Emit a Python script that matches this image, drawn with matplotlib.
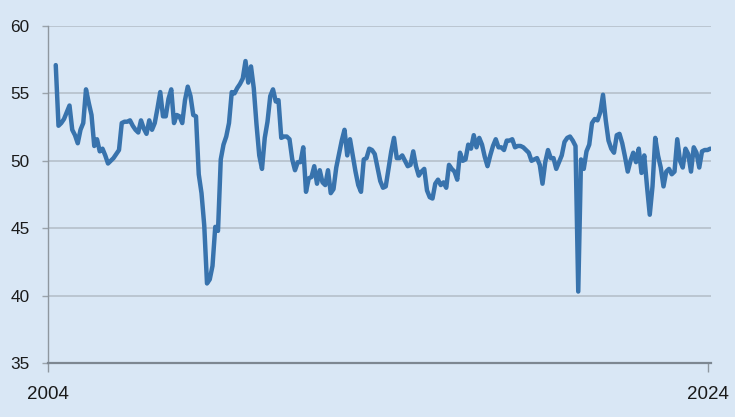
import matplotlib.pyplot as plt
import numpy as np

# monthly index values, Apr 2004 .. Feb 2024
start_year, start_month = 2004, 4
v2004 = [57.1, 52.6, 52.8, 53.1, 53.6, 54.1, 52.3, 51.9, 51.3]
v2005 = [52.3, 52.8, 55.3, 54.3, 53.4, 51.1, 51.6, 50.7, 50.9, 50.4, 49.8, 50.0]
v2006 = [50.2, 50.5, 50.8, 52.8, 52.9, 52.9, 53.0, 52.6, 52.3, 52.1, 53.0, 52.4]
v2007 = [52.0, 53.0, 52.3, 52.8, 53.9, 55.1, 53.3, 53.3, 54.6, 55.3, 52.8, 53.4]
v2008 = [53.3, 52.8, 54.5, 55.5, 54.8, 53.4, 53.3, 49.0, 47.6, 45.2, 40.9, 41.2]
v2009 = [42.2, 45.1, 44.8, 50.1, 51.2, 51.8, 52.8, 55.1, 55.0, 55.4, 55.7, 56.1]
v2010 = [57.4, 55.8, 57.0, 55.4, 52.7, 50.4, 49.4, 51.7, 52.9, 54.8, 55.3, 54.4]
v2011 = [54.5, 51.7, 51.8, 51.8, 51.6, 50.1, 49.3, 49.9, 49.9, 51.0, 47.7, 48.7]
v2012 = [48.8, 49.6, 48.3, 49.3, 48.4, 48.2, 49.3, 47.6, 47.9, 49.5, 50.5, 51.5]
v2013 = [52.3, 50.4, 51.6, 50.4, 49.2, 48.2, 47.7, 50.1, 50.2, 50.9, 50.8, 50.5]
v2014 = [49.5, 48.5, 48.0, 48.1, 49.4, 50.7, 51.7, 50.2, 50.2, 50.4, 50.0, 49.6]
v2015 = [49.7, 50.7, 49.6, 48.9, 49.2, 49.4, 47.8, 47.3, 47.2, 48.3, 48.6, 48.2]
v2016 = [48.4, 48.0, 49.7, 49.4, 49.2, 48.6, 50.6, 50.0, 50.1, 51.2, 50.9, 51.9]
v2017 = [51.0, 51.7, 51.2, 50.3, 49.6, 50.4, 51.1, 51.6, 51.0, 51.0, 50.8, 51.5]
v2018 = [51.5, 51.6, 51.0, 51.1, 51.1, 51.0, 50.8, 50.6, 50.0, 50.1, 50.2, 49.7]
v2019 = [48.3, 49.9, 50.8, 50.2, 50.2, 49.4, 49.9, 50.4, 51.4, 51.7, 51.8, 51.5]
v2020 = [51.1, 40.3, 50.1, 49.4, 50.7, 51.2, 52.8, 53.1, 53.0, 53.6, 54.9, 53.0]
v2021 = [51.5, 50.9, 50.6, 51.9, 52.0, 51.3, 50.3, 49.2, 50.0, 50.6, 49.9, 50.9]
v2022 = [49.1, 50.4, 48.1, 46.0, 48.1, 51.7, 50.4, 49.5, 48.1, 49.2, 49.4, 49.0]
v2023 = [49.2, 51.6, 50.0, 49.5, 50.9, 50.5, 49.2, 51.0, 50.6, 49.5, 50.7, 50.8]
v2024 = [50.8, 50.9]

yticks = [35, 40, 45, 50, 55, 60]
xticks = [2004, 2024]

values = np.array(v2004 + v2005 + v2006 + v2007 + v2008 + v2009 + v2010 + v2011
                  + v2012 + v2013 + v2014 + v2015 + v2016 + v2017 + v2018 + v2019
                  + v2020 + v2021 + v2022 + v2023 + v2024)
months = np.arange(len(values)) + (start_month - 1)
x = start_year + months / 12.0

bg = '#d9e7f5'
fig = plt.figure(figsize=(7.35, 4.17), dpi=100, facecolor=bg)
ax = fig.add_axes([47.5 / 735, 54 / 417, 663.5 / 735, 337 / 417])
ax.set_facecolor(bg)

ax.plot(x, values, color='#3873ad', lw=3.2, solid_joinstyle='round',
        solid_capstyle='round', zorder=3)

ax.set_xlim(2004, 2004 + 663.5 / 33.0)
ax.set_ylim(35, 60)

for v in yticks[1:]:
    ax.axhline(v, color='#b6c0ca', lw=1.2, zorder=1)

for s in ['top', 'right']:
    ax.spines[s].set_visible(False)
ax.spines['bottom'].set_color('#7d8791')
ax.spines['bottom'].set_linewidth(1.6)
ax.spines['left'].set_color('#8e979f')
ax.spines['left'].set_linewidth(1.0)

ax.set_yticks(yticks)
ax.set_yticklabels([str(v) for v in yticks], fontsize=12.4,
                   family=['Liberation Sans', 'DejaVu Sans'], color='#1a1a1a')
ax.tick_params(axis='y', length=4.5, width=1.0, color='#9aa3ab', pad=8.5)

ax.set_xticks(xticks)
ax.set_xticklabels([str(v) for v in xticks], fontsize=13.5,
                   family=['Liberation Sans', 'DejaVu Sans'], color='#1a1a1a')
ax.tick_params(axis='x', length=6.5, width=1.0, color='#8e979f', pad=10)

fig.savefig('out.png', dpi=100, facecolor=bg)
